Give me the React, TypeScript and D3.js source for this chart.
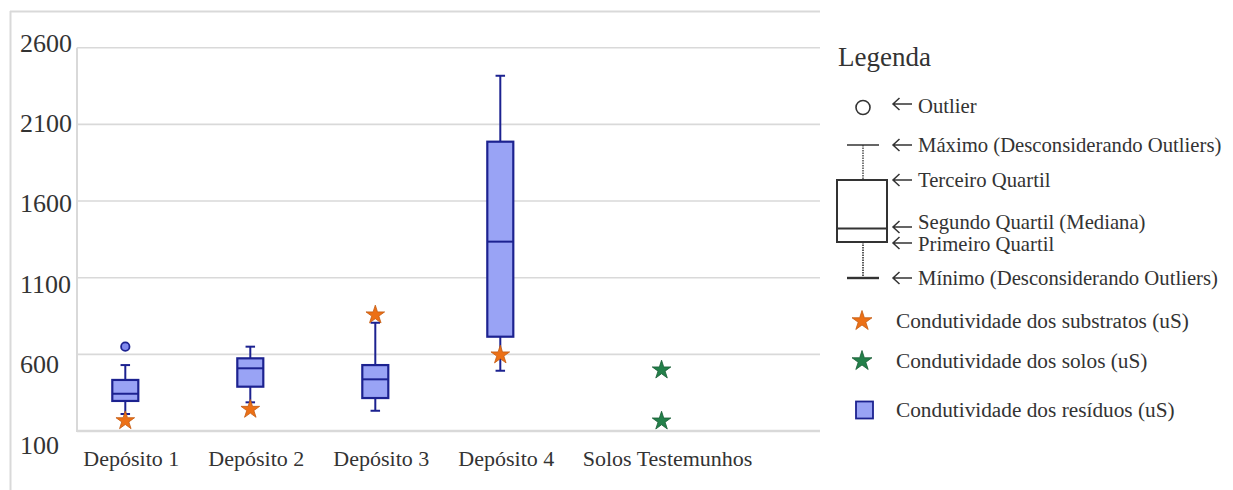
import React from "react";
import * as d3 from "d3";

// ---------- data ----------
const categories = ["Depósito 1", "Depósito 2", "Depósito 3", "Depósito 4", "Solos Testemunhos"];
const boxCategories = ["Depósito 1", "Depósito 2", "Depósito 3", "Depósito 4"];
const residuosMin = [211, 287, 232, 493];
const residuosQ1 = [296, 389, 315, 715];
const residuosMedian = [343, 509, 437, 1335];
const residuosQ3 = [433, 574, 530, 1987];
const residuosMax = [530, 650, 806, 2417];
const outlierCategories = ["Depósito 1"];
const outlierValues = [650];
const substratosCategories = ["Depósito 1", "Depósito 2", "Depósito 3", "Depósito 4"];
const substratosValues = [167, 241, 857, 596];
const solosCategories = ["Solos Testemunhos", "Solos Testemunhos"];
const solosValues = [498, 165];
const yTicks = [100, 600, 1100, 1600, 2100, 2600];

const legendBoxItems = [
  "Outlier",
  "Máximo (Desconsiderando Outliers)",
  "Terceiro Quartil",
  "Segundo Quartil (Mediana)",
  "Primeiro Quartil",
  "Mínimo (Desconsiderando Outliers)",
];
const legendSeries = [
  "Condutividade dos substratos (uS)",
  "Condutividade dos solos (uS)",
  "Condutividade dos resíduos (uS)",
];

// ---------- layout ----------
const W = 1233;
const H = 490;
const SERIF = "'Liberation Serif', 'Times New Roman', serif";
const TEXT = "#333333";
const GRID = "#d9d9d9";
const BOX_FILL = "#99a3f5";
const BOX_STROKE = "#1c2290";
const ORANGE = "#ec7016";
const ORANGE_STROKE = "#c45a10";
const GREEN = "#23804a";
const GREEN_STROKE = "#165c33";

const plotLeft = 77;
const plotRight = 820;
const y = d3.scaleLinear().domain([100, 2600]).range([431, 47.7]);
const yLabel = d3.scaleLinear().domain([100, 2600]).range([445, 43]);
const catIndex = d3.scaleLinear().domain([0, 3]).range([125.3, 500.3]);
const SOLOS_EXTRA_GAP = 0.29;
const xOf = (cat: string) => {
  const i = categories.indexOf(cat);
  return catIndex(i + (i === 4 ? SOLOS_EXTRA_GAP : 0));
};
const LABEL_SHIFT = 6;
const boxW = 26;
const capW = 9.5;

const starPath = (r: number) =>
  d3.symbol().type(d3.symbolStar).size((r * r) / 0.8908130915292852)() as string;

const arrowPath = (x: number, yy: number) => {
  const p = d3.path();
  p.moveTo(x + 19, yy);
  p.lineTo(x, yy);
  p.moveTo(x + 6.5, yy - 6);
  p.lineTo(x, yy);
  p.lineTo(x + 6.5, yy + 6);
  return p.toString();
};

export default function App() {
  const lx = 863; // legend box-plot center
  const legendLineY = [106, 145, 180, 221.5, 244, 278];
  const legendArrowY = [104, 145, 180, 227, 243, 278];
  const seriesY = [321, 361, 410];

  return (
    <div style={{ position: "absolute", left: 0, top: 0 }}>
      <svg width={W} height={H} style={{ display: "block", background: "#fff" }}>
        {/* outer frame */}
        <line x1={10} x2={820} y1={11.5} y2={11.5} stroke={GRID} strokeWidth={2} />
        <line x1={10.5} x2={10.5} y1={11} y2={H} stroke={GRID} strokeWidth={2} />

        {/* gridlines */}
        {yTicks.map((t) => (
          <line
            key={"g" + t}
            x1={plotLeft}
            x2={plotRight}
            y1={y(t)}
            y2={y(t)}
            stroke={GRID}
            strokeWidth={t === 100 ? 2.5 : 1.6}
          />
        ))}
        <line x1={plotLeft} x2={plotLeft} y1={y(2600)} y2={y(100) + 1} stroke={GRID} strokeWidth={2} />

        {/* y labels */}
        {yTicks.map((t) => (
          <text
            key={"yl" + t}
            x={20}
            y={yLabel(t)}
            dominantBaseline="central"
            fontFamily={SERIF}
            fontSize={26}
            fill={TEXT}
          >
            {t}
          </text>
        ))}

        {/* x labels */}
        {categories.map((c) => (
          <text
            key={"xl" + c}
            x={xOf(c) + LABEL_SHIFT}
            y={458}
            textAnchor="middle"
            dominantBaseline="central"
            fontFamily={SERIF}
            fontSize={22}
            fill={TEXT}
          >
            {c}
          </text>
        ))}

        {/* box plots */}
        {boxCategories.map((c, i) => {
          const cx = xOf(c);
          return (
            <g key={"b" + c}>
              <line x1={cx} x2={cx} y1={y(residuosMax[i])} y2={y(residuosQ3[i])} stroke={BOX_STROKE} strokeWidth={2} />
              <line x1={cx} x2={cx} y1={y(residuosQ1[i])} y2={y(residuosMin[i])} stroke={BOX_STROKE} strokeWidth={2} />
              <line x1={cx - capW / 2} x2={cx + capW / 2} y1={y(residuosMax[i])} y2={y(residuosMax[i])} stroke={BOX_STROKE} strokeWidth={2} />
              <line x1={cx - capW / 2} x2={cx + capW / 2} y1={y(residuosMin[i])} y2={y(residuosMin[i])} stroke={BOX_STROKE} strokeWidth={2} />
              <rect
                x={cx - boxW / 2}
                y={y(residuosQ3[i])}
                width={boxW}
                height={y(residuosQ1[i]) - y(residuosQ3[i])}
                fill={BOX_FILL}
                stroke={BOX_STROKE}
                strokeWidth={2.2}
              />
              <line x1={cx - boxW / 2} x2={cx + boxW / 2} y1={y(residuosMedian[i])} y2={y(residuosMedian[i])} stroke={BOX_STROKE} strokeWidth={2} />
            </g>
          );
        })}

        {/* outliers */}
        {outlierCategories.map((c, i) => (
          <circle key={"o" + i} cx={xOf(c)} cy={y(outlierValues[i])} r={4.2} fill="#8089ee" stroke={BOX_STROKE} strokeWidth={1.8} />
        ))}

        {/* substratos stars */}
        {substratosCategories.map((c, i) => (
          <path
            key={"s" + i}
            d={starPath(9.8)}
            transform={`translate(${xOf(c)},${y(substratosValues[i])})`}
            fill={ORANGE}
            stroke={ORANGE_STROKE}
            strokeWidth={0.8}
          />
        ))}

        {/* solos stars */}
        {solosCategories.map((c, i) => (
          <path
            key={"so" + i}
            d={starPath(9.8)}
            transform={`translate(${xOf(c)},${y(solosValues[i])})`}
            fill={GREEN}
            stroke={GREEN_STROKE}
            strokeWidth={0.8}
          />
        ))}

        {/* legend */}
        <text x={838} y={57} dominantBaseline="central" fontFamily={SERIF} fontSize={27} fill={TEXT}>
          Legenda
        </text>
        <circle cx={lx} cy={107.5} r={7} fill="#fff" stroke="#333" strokeWidth={1.6} />
        <line x1={lx - 16} x2={lx + 16} y1={145} y2={145} stroke="#333" strokeWidth={1.5} />
        <line x1={lx} x2={lx} y1={145} y2={180} stroke="#333" strokeWidth={1.3} strokeDasharray="1.5,1" />
        <rect x={lx - 26} y={180} width={50} height={62} fill="#fff" stroke="#333" strokeWidth={2} />
        <line x1={lx - 26} x2={lx + 24} y1={228.5} y2={228.5} stroke="#333" strokeWidth={1.8} />
        <line x1={lx} x2={lx} y1={242} y2={278} stroke="#333" strokeWidth={1.6} strokeDasharray="1.5,1" />
        <line x1={lx - 16} x2={lx + 16} y1={278} y2={278} stroke="#333" strokeWidth={2.4} />
        {legendBoxItems.map((t, i) => (
          <g key={"lb" + i}>
            <path d={arrowPath(893, legendArrowY[i])} fill="none" stroke="#333" strokeWidth={1.5} />
            <text x={918} y={legendLineY[i]} dominantBaseline="central" fontFamily={SERIF} fontSize={20.7} fill={TEXT}>
              {t}
            </text>
          </g>
        ))}

        <path d={starPath(10.5)} transform={`translate(862,${seriesY[0]})`} fill={ORANGE} stroke={ORANGE_STROKE} strokeWidth={0.8} />
        <path d={starPath(10.5)} transform={`translate(862,${seriesY[1]})`} fill={GREEN} stroke={GREEN_STROKE} strokeWidth={0.8} />
        <rect x={856} y={seriesY[2] - 8.5} width={17} height={17} fill={BOX_FILL} stroke={BOX_STROKE} strokeWidth={1.8} />
        {legendSeries.map((t, i) => (
          <text key={"ls" + i} x={896} y={seriesY[i]} dominantBaseline="central" fontFamily={SERIF} fontSize={21.3} fill={TEXT}>
            {t}
          </text>
        ))}
      </svg>
    </div>
  );
}
